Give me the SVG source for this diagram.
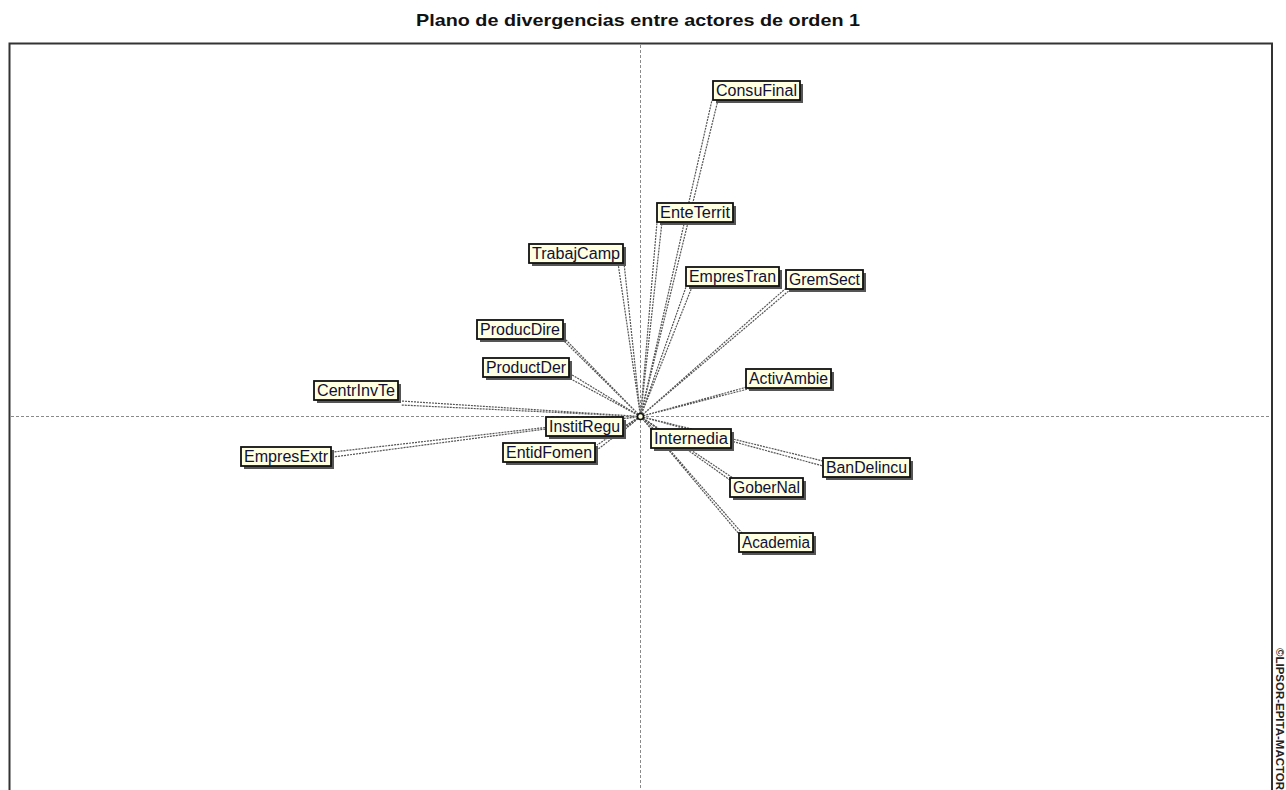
<svg xmlns="http://www.w3.org/2000/svg" width="1286" height="790" viewBox="0 0 1286 790">
  <defs>
    <style>
      .title { font-family: "Liberation Sans", Arial, sans-serif; font-size: 17px; font-weight: bold; fill: #111; }
      .frame { fill: none; stroke: #333; stroke-width: 2; }
      .axis { stroke: #8a8a8a; stroke-width: 1; stroke-dasharray: 3 2; fill: none; }
      .link { stroke: #555; stroke-width: 1.2; stroke-dasharray: 2 1; fill: none; }
      .shadow { fill: #555; }
      .box { fill: #ffffe1; stroke: #111; stroke-width: 1.8; }
      .lbl { font-family: "Liberation Sans", Arial, sans-serif; font-size: 16px; fill: #10103a; }
      .mark { font-family: "Liberation Sans", Arial, sans-serif; font-size: 11px; font-weight: bold; fill: #222; }
    </style>
  </defs>

  <rect width="1286" height="790" fill="#ffffff"/>

  <text class="title" x="416" y="26" textLength="444" lengthAdjust="spacingAndGlyphs">Plano de divergencias entre actores de orden 1</text>

  <!-- plot frame (bottom edge runs past the window) -->
  <rect class="frame" x="9.5" y="43.5" width="1262.5" height="760"/>

  <!-- axes -->
  <g id="axes">
    <line class="axis" x1="11" y1="416.5" x2="1271" y2="416.5"/>
    <line class="axis" x1="640.5" y1="45" x2="640.5" y2="790"/>
  </g>

  <!-- divergence links from the centre to each actor -->
  <g id="connectors">
    <path class="link" d="M640.5 416.5 L712 100 M640.5 416.5 L718 100"/>
    <path class="link" d="M640.5 416.5 L657 222 M640.5 416.5 L662 222"/>
    <path class="link" d="M640.5 416.5 L618 263 M640.5 416.5 L624 263"/>
    <path class="link" d="M640.5 416.5 L686 287 M640.5 416.5 L692 287"/>
    <path class="link" d="M640.5 416.5 L785 289 M640.5 416.5 L791 289"/>
    <path class="link" d="M640.5 416.5 L562 339 M640.5 416.5 L566 340"/>
    <path class="link" d="M640.5 416.5 L569 373 M640.5 416.5 L569 378"/>
    <path class="link" d="M640.5 416.5 L401 401 M640.5 416.5 L401 405"/>
    <path class="link" d="M640.5 416.5 L333 452 M640.5 416.5 L333 457"/>
    <path class="link" d="M640.5 416.5 L623 427 M640.5 416.5 L623 431"/>
    <path class="link" d="M640.5 416.5 L597 445 M640.5 416.5 L597 450"/>
    <path class="link" d="M640.5 416.5 L747 387 M640.5 416.5 L752 388"/>
    <path class="link" d="M640.5 416.5 L655 430 M640.5 416.5 L660 430"/>
    <path class="link" d="M640.5 416.5 L823 461 M640.5 416.5 L823 466"/>
    <path class="link" d="M640.5 416.5 L730 480 M640.5 416.5 L733 478"/>
    <path class="link" d="M640.5 416.5 L739 534 M640.5 416.5 L742 533"/>
  </g>

  <circle cx="640.5" cy="416.5" r="3" fill="#ffffe1" stroke="#111" stroke-width="1.6"/>

  <!-- actors -->
  <g id="ConsuFinal"><rect class="shadow" x="716" y="84" width="87" height="19"/><rect class="box" x="713" y="81" width="87" height="19"/><text class="lbl" x="716" y="96" textLength="81" lengthAdjust="spacingAndGlyphs">ConsuFinal</text></g>
  <g id="EnteTerrit"><rect class="shadow" x="660" y="206" width="76" height="19"/><rect class="box" x="657" y="203" width="76" height="19"/><text class="lbl" x="660" y="218" textLength="70" lengthAdjust="spacingAndGlyphs">EnteTerrit</text></g>
  <g id="EmpresTran"><rect class="shadow" x="689" y="270" width="93" height="19"/><rect class="box" x="686" y="267" width="93" height="19"/><text class="lbl" x="689" y="282" textLength="87" lengthAdjust="spacingAndGlyphs">EmpresTran</text></g>
  <g id="GremSect"><rect class="shadow" x="789" y="273" width="77" height="19"/><rect class="box" x="786" y="270" width="77" height="19"/><text class="lbl" x="789" y="285" textLength="71" lengthAdjust="spacingAndGlyphs">GremSect</text></g>
  <g id="TrabajCamp"><rect class="shadow" x="532" y="247" width="94" height="19"/><rect class="box" x="529" y="244" width="94" height="19"/><text class="lbl" x="532" y="259" textLength="88" lengthAdjust="spacingAndGlyphs">TrabajCamp</text></g>
  <g id="ProducDire"><rect class="shadow" x="480" y="323" width="86" height="19"/><rect class="box" x="477" y="320" width="86" height="19"/><text class="lbl" x="480" y="335" textLength="80" lengthAdjust="spacingAndGlyphs">ProducDire</text></g>
  <g id="ProductDer"><rect class="shadow" x="486" y="361" width="86" height="19"/><rect class="box" x="483" y="358" width="86" height="19"/><text class="lbl" x="486" y="373" textLength="80" lengthAdjust="spacingAndGlyphs">ProductDer</text></g>
  <g id="CentrInvTe"><rect class="shadow" x="317" y="384" width="84" height="19"/><rect class="box" x="314" y="381" width="84" height="19"/><text class="lbl" x="317" y="396" textLength="78" lengthAdjust="spacingAndGlyphs">CentrInvTe</text></g>
  <g id="InstitRegu"><rect class="shadow" x="549" y="420" width="77" height="19"/><rect class="box" x="546" y="417" width="77" height="19"/><text class="lbl" x="549" y="432" textLength="71" lengthAdjust="spacingAndGlyphs">InstitRegu</text></g>
  <g id="EntidFomen"><rect class="shadow" x="506" y="446" width="92" height="19"/><rect class="box" x="503" y="443" width="92" height="19"/><text class="lbl" x="506" y="458" textLength="86" lengthAdjust="spacingAndGlyphs">EntidFomen</text></g>
  <g id="EmpresExtr"><rect class="shadow" x="244" y="450" width="90" height="19"/><rect class="box" x="241" y="447" width="90" height="19"/><text class="lbl" x="244" y="462" textLength="84" lengthAdjust="spacingAndGlyphs">EmpresExtr</text></g>
  <g id="ActivAmbie"><rect class="shadow" x="749" y="372" width="85" height="19"/><rect class="box" x="746" y="369" width="85" height="19"/><text class="lbl" x="749" y="384" textLength="79" lengthAdjust="spacingAndGlyphs">ActivAmbie</text></g>
  <g id="Internedia"><rect class="shadow" x="654" y="432" width="80" height="19"/><rect class="box" x="651" y="429" width="80" height="19"/><text class="lbl" x="654" y="444" textLength="74" lengthAdjust="spacingAndGlyphs">Internedia</text></g>
  <g id="BanDelincu"><rect class="shadow" x="826" y="461" width="87" height="19"/><rect class="box" x="823" y="458" width="87" height="19"/><text class="lbl" x="826" y="473" textLength="81" lengthAdjust="spacingAndGlyphs">BanDelincu</text></g>
  <g id="GoberNal"><rect class="shadow" x="733" y="481" width="73" height="19"/><rect class="box" x="730" y="478" width="73" height="19"/><text class="lbl" x="733" y="493" textLength="67" lengthAdjust="spacingAndGlyphs">GoberNal</text></g>
  <g id="Academia"><rect class="shadow" x="742" y="536" width="74" height="19"/><rect class="box" x="739" y="533" width="74" height="19"/><text class="lbl" x="742" y="548" textLength="68" lengthAdjust="spacingAndGlyphs">Academia</text></g>

  <text class="mark" transform="translate(1276 648) rotate(90)" textLength="142" lengthAdjust="spacingAndGlyphs">©LIPSOR-EPITA-MACTOR</text>
</svg>
